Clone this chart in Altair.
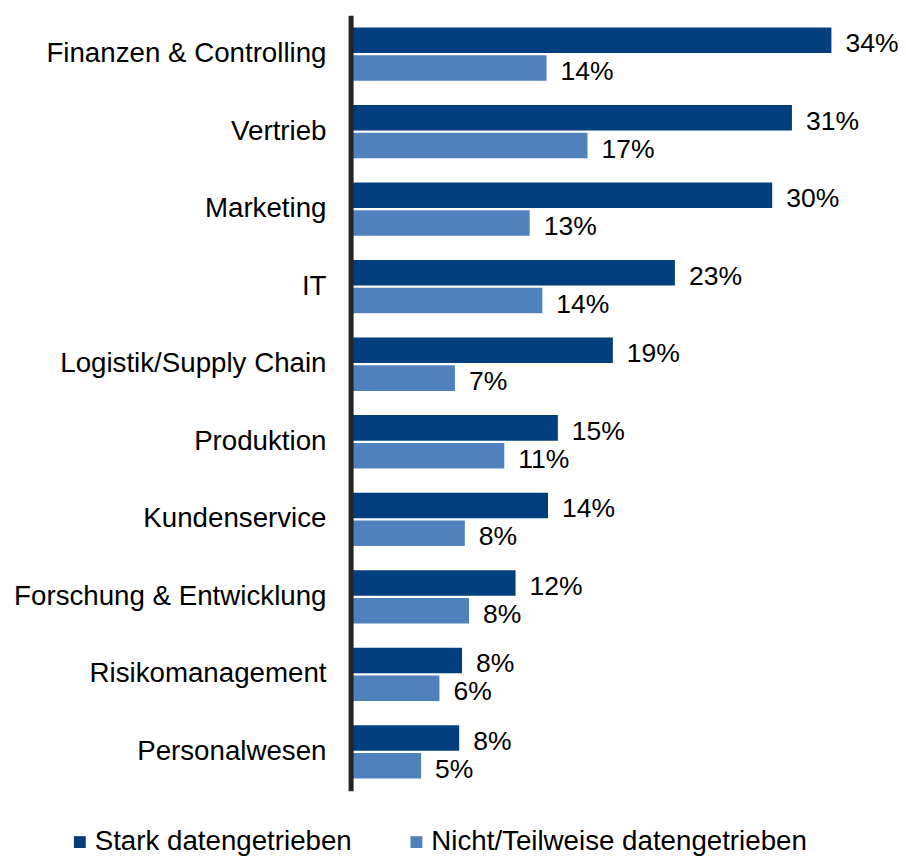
import altair as alt
import pandas as pd

categories = [
    "Finanzen & Controlling", "Vertrieb", "Marketing", "IT",
    "Logistik/Supply Chain", "Produktion", "Kundenservice",
    "Forschung & Entwicklung", "Risikomanagement", "Personalwesen",
]
series = ["Stark datengetrieben", "Nicht/Teilweise datengetrieben"]
stark = [34.1, 31.3, 29.9, 23.0, 18.6, 14.7, 14.0, 11.7, 7.9, 7.7]
nicht = [13.9, 16.8, 12.7, 13.6, 7.4, 10.9, 8.1, 8.4, 6.3, 5.0]
colors = ["#003E7E", "#4F81BD"]

rows = []
for i, c in enumerate(categories):
    rows.append({"cat": c, "series": series[0], "value": stark[i]})
    rows.append({"cat": c, "series": series[1], "value": nicht[i]})
df = pd.DataFrame(rows)

FONT = "Liberation Sans"
FS = 27.7
VFS = 26.5

y = alt.Y("cat:N", sort=categories,
          scale=alt.Scale(paddingInner=0.312, paddingOuter=0.156),
          axis=alt.Axis(title=None, ticks=False, tickSize=0, labelPadding=24.6,
                        labelLimit=500, labelFont=FONT, labelFontSize=FS,
                        labelColor="#000000", domainColor="#262626",
                        domainWidth=5, zindex=1, grid=False))
yoff = alt.YOffset("series:N", sort=series,
                   scale=alt.Scale(paddingInner=0.08, paddingOuter=0))
x = alt.X("value:Q", scale=alt.Scale(domain=[0, 38], nice=False), axis=None)

bars = alt.Chart(df).mark_bar().encode(
    y=y, yOffset=yoff, x=x,
    color=alt.Color("series:N", sort=series,
                    scale=alt.Scale(domain=series, range=colors),
                    legend=alt.Legend(title=None, orient="none", legendX=-284.6, legendY=812.7,
                                      direction="horizontal", symbolType="square",
                                      symbolSize=140, labelFont=FONT, labelFontSize=FS,
                                      labelColor="#000000", labelOffset=1,
                                      columnPadding=50.6, padding=0, labelLimit=600)),
)

labels = alt.Chart(df).transform_calculate(
    label="format(datum.value, '.0f') + '%'"
).mark_text(align="left", baseline="middle", dx=14, dy=4, font=FONT,
            fontSize=VFS, color="#000000").encode(
    y=alt.Y("cat:N", sort=categories), yOffset=alt.YOffset("series:N", sort=series),
    x="value:Q", text="label:N",
)

chart = (bars + labels).properties(
    width=535.8, height=775.4,
    autosize=alt.AutoSizeParams(type="none"),
    padding={"left": 342.6, "top": 7.3, "right": 11.6, "bottom": 67.3},
).configure_view(stroke=None)

chart.save("out.html", embed_options={"renderer": "svg", "actions": False})
